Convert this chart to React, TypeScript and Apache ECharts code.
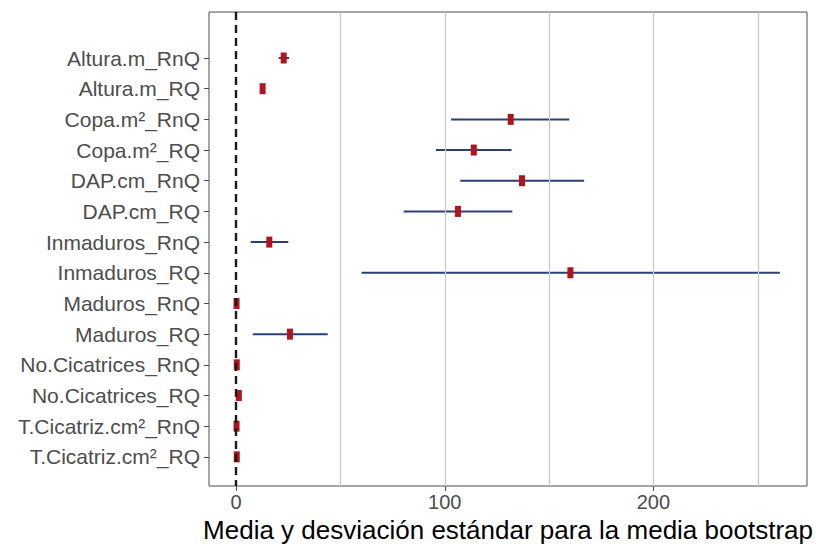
import React, { useEffect, useRef } from "react";
import * as echarts from "echarts";

const categories = [
  "Altura.m_RnQ",
  "Altura.m_RQ",
  "Copa.m²_RnQ",
  "Copa.m²_RQ",
  "DAP.cm_RnQ",
  "DAP.cm_RQ",
  "Inmaduros_RnQ",
  "Inmaduros_RQ",
  "Maduros_RnQ",
  "Maduros_RQ",
  "No.Cicatrices_RnQ",
  "No.Cicatrices_RQ",
  "T.Cicatriz.cm²_RnQ",
  "T.Cicatriz.cm²_RQ",
];
const means = [22.8, 12.7, 131.6, 113.9, 137.0, 106.3, 15.9, 160.2, 0.2, 25.8, 0.3, 1.3, 0.2, 0.3];
const lower = [20.4, 11.9, 103.0, 95.8, 107.4, 80.3, 7.0, 60.1, 0.0, 8.0, 0.1, 0.9, 0.1, 0.1];
const upper = [25.4, 13.5, 159.7, 132.0, 166.8, 132.4, 25.0, 260.6, 0.4, 43.9, 0.5, 1.7, 0.3, 0.5];
const xTickValues = [0, 100, 200];
const xGridValues = [50, 100, 150, 200, 250];
const xTitle = "Media y desviación estándar para la media bootstrap";

export default function App() {
  const ref = useRef<HTMLDivElement>(null);
  useEffect(() => {
    if (!ref.current) return;
    const chart = echarts.init(ref.current, null, { renderer: "svg" });
    const idx = categories.map((_, i) => i);
    const font = "'Liberation Sans', Arial, Helvetica, sans-serif";
    chart.setOption({
      animation: false,
      textStyle: { fontFamily: font },
      grid: {
        left: 209,
        right: 9,
        top: 12,
        bottom: 58,
        show: true,
        borderColor: "#4d4d4d",
        borderWidth: 1,
        backgroundColor: "#ffffff",
        containLabel: false,
        outerBoundsMode: "none",
      },
      xAxis: {
        type: "value",
        min: -13,
        max: 273.6,
        name: xTitle,
        nameLocation: "middle",
        nameGap: 30,
        nameTextStyle: { fontSize: 26, color: "#000", fontFamily: font },
        axisLine: { show: false, onZero: false },
        axisTick: { show: true, customValues: xTickValues, length: 5, lineStyle: { color: "#4d4d4d" } },
        axisLabel: { customValues: xTickValues, fontSize: 20, color: "#4d4d4d", margin: 6, fontFamily: font },
        splitLine: { show: false },
      },
      yAxis: {
        type: "value",
        inverse: true,
        min: -1.5,
        max: 13.95,
        axisLine: { show: false, onZero: false },
        axisTick: { show: true, customValues: idx, length: 5, lineStyle: { color: "#4d4d4d" } },
        axisLabel: {
          customValues: idx,
          fontSize: 21,
          color: "#4d4d4d",
          margin: 9,
          fontFamily: font,
          formatter: (v: number) => categories[Math.round(v)] ?? "",
        },
        splitLine: { show: false },
      },
      series: [
        {
          type: "scatter",
          data: [],
          silent: true,
          z: 1,
          markLine: {
            silent: true,
            symbol: "none",
            label: { show: false },
            lineStyle: { color: "#c8c8c8", width: 1.3, type: "solid" },
            data: xGridValues.map((v) => ({ xAxis: v })),
          },
        },
        {
          type: "custom",
          z: 3,
          data: idx.map((i) => [lower[i], upper[i], i]),
          encode: { x: [0, 1], y: 2 },
          renderItem: (params: any, api: any) => {
            const p1 = api.coord([api.value(0), api.value(2)]);
            const p2 = api.coord([api.value(1), api.value(2)]);
            return {
              type: "line",
              shape: { x1: p1[0], y1: p1[1], x2: p2[0], y2: p2[1] },
              style: { stroke: "#2b3f72", lineWidth: 2 },
            };
          },
        },
        {
          type: "scatter",
          z: 4,
          symbol: "rect",
          symbolSize: [6, 11],
          itemStyle: { color: "#b0141e", opacity: 1 },
          data: idx.map((i) => [means[i], i]),
        },
        {
          type: "scatter",
          data: [],
          silent: true,
          z: 5,
          markLine: {
            silent: true,
            symbol: "none",
            label: { show: false },
            lineStyle: { color: "#1a1a1a", width: 2.4, type: [8, 5] },
            data: [{ xAxis: 0 }],
          },
        },
      ],
    });
    return () => chart.dispose();
  }, []);
  return (
    <div
      ref={ref}
      style={{ position: "fixed", left: 0, top: 0, width: 816, height: 544, background: "#fff" }}
    />
  );
}
